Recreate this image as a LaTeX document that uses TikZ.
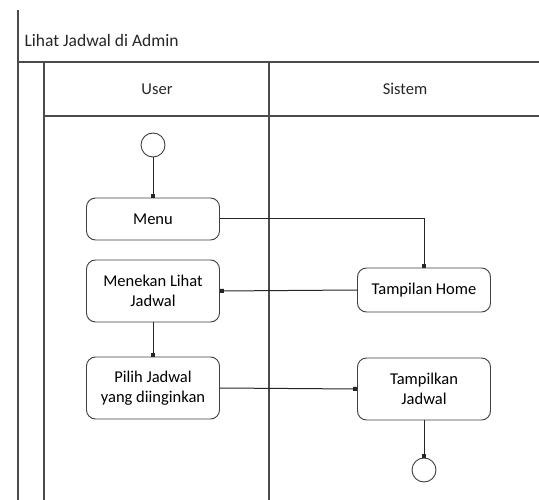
\documentclass[tikz,border=0pt]{standalone}
\usepackage{fontspec}
\setmainfont{Carlito}
\usetikzlibrary{arrows.meta}
\begin{document}
\begin{tikzpicture}[x=1pt,y=-1pt,
  frame/.style={draw=black!70,line width=1.3pt},
  act/.style={draw=black!75,line width=0.9pt,rounded corners=9pt,minimum width=133pt,
    align=center,font=\fontsize{16.5}{19.5}\selectfont,inner sep=2pt},
  terminal/.style={circle,draw=black!75,line width=0.9pt,minimum size=24pt,inner sep=0pt},
  flow/.style={draw=black!85,line width=1pt,-{Square[length=4pt,width=4pt]}},
  lbl/.style={font=\fontsize{16.5}{19.5}\selectfont,text=black!85}]
\useasboundingbox (0,0) rectangle (539,500);
\fill[white] (0,0) rectangle (539,500);
% swimlane frame
\draw[frame] (18,10) -- (18,500);
\draw[frame] (18,62) -- (539,62);
\draw[frame] (44,62) -- (44,500);
\draw[frame] (44,116) -- (539,116);
\draw[frame] (269,62) -- (269,500);
\node[lbl,anchor=west,font=\fontsize{17.5}{20}\selectfont] (title) at (21,40) {Lihat Jadwal di Admin};
\node[lbl] (user) at (157,89) {User};
\node[lbl] (sistem) at (405,89) {Sistem};
% activities
\node[terminal] (start) at (153,145) {};
\node[act,minimum height=42pt] (menu) at (153,219) {Menu};
\node[act,minimum height=62pt] (menekan) at (153,291) {Menekan Lihat\\Jadwal};
\node[act,minimum height=62pt] (pilih) at (153,388) {Pilih Jadwal\\yang diinginkan};
\node[act,minimum height=44pt] (home) at (424,290) {Tampilan Home};
\node[act,minimum height=62pt] (tampil) at (424,389) {Tampilkan\\Jadwal};
\node[terminal] (end) at (424,470) {};
% control flow
\draw[flow] (start) -- (menu);
\draw[flow] (menu.east) -| (home.north);
\draw[flow] (home.west) -- (menekan.east);
\draw[flow] (menekan) -- (pilih);
\draw[flow] (pilih.east) -- (tampil.west);
\draw[flow] (tampil) -- (end);
\end{tikzpicture}
\end{document}
